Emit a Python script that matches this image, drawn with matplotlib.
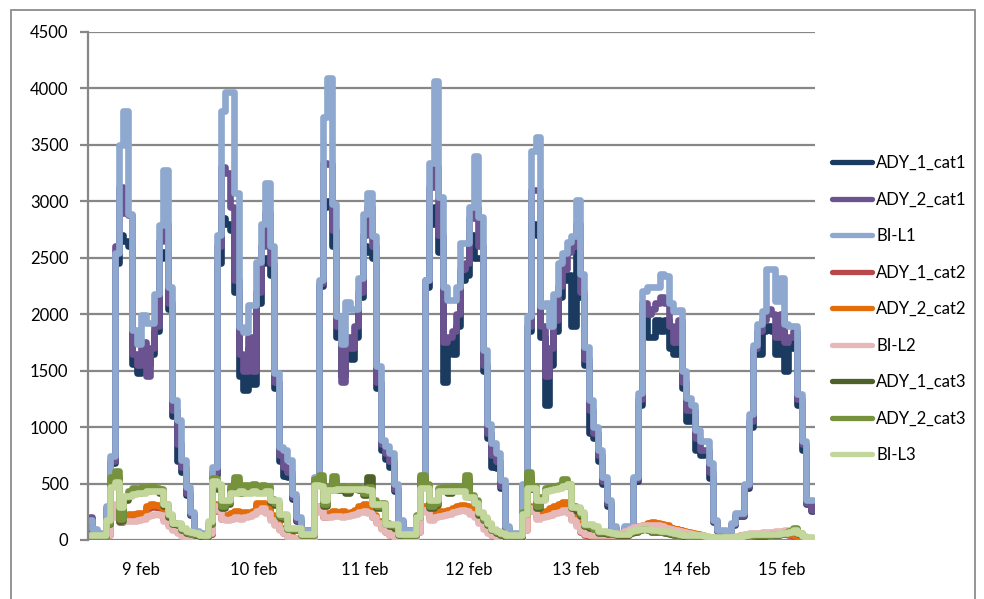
import matplotlib
matplotlib.use("Agg")
import matplotlib.pyplot as plt
import numpy as np
from matplotlib.patches import Rectangle
from matplotlib.lines import Line2D

plt.rcParams['font.family'] = ['Lato', 'DejaVu Sans']

# ---------------- data (hourly values, 9 feb 00:00 .. 15 feb 19:00) ----------------
ady_1_cat1 = (
    [190, 80, 50, 50, 270, 680, 2450, 2700, 2650, 2600, 1560, 1480, 1650, 1550, 1650, 1850, 2500, 2550, 2050, 1100, 700, 600, 400, 220]
    + [70, 50, 50, 50, 580, 2450, 2850, 2800, 2750, 2200, 1450, 1330, 1700, 1380, 2100, 2450, 2500, 2350, 1350, 700, 570, 560, 360, 170]
    + [80, 80, 80, 520, 2250, 2950, 3000, 2600, 1800, 1450, 1750, 1600, 1800, 2150, 2600, 2550, 2500, 1350, 800, 720, 650, 430, 160, 80]
    + [80, 80, 80, 520, 2240, 2800, 2950, 2550, 1400, 1750, 1650, 1900, 2300, 2350, 2700, 2500, 2500, 1500, 900, 650, 640, 460, 100, 55]
    + [55, 55, 460, 1850, 2800, 2700, 1800, 1200, 1550, 1850, 2150, 2300, 2350, 1900, 2550, 2150, 1550, 950, 900, 700, 500, 300, 100, 55]
    + [55, 100, 100, 520, 1200, 2000, 1800, 1800, 1950, 1850, 1950, 1700, 1650, 1900, 1350, 1050, 1100, 800, 750, 780, 550, 160, 80, 80]
    + [55, 130, 210, 210, 460, 1000, 1650, 1650, 1850, 1900, 1850, 1650, 1950, 1500, 1700, 1800, 1200, 800, 320, 260]
)
ady_2_cat1 = (
    [200, 80, 50, 50, 280, 700, 2600, 3130, 2900, 2880, 1650, 1550, 1750, 1450, 1700, 1900, 2650, 2800, 2100, 1150, 850, 650, 420, 230]
    + [75, 55, 55, 55, 600, 2600, 3300, 3250, 2950, 2300, 1650, 1500, 1800, 1500, 2200, 2600, 2900, 2450, 1400, 750, 650, 600, 380, 180]
    + [85, 85, 85, 550, 2280, 3340, 3330, 2750, 1900, 1400, 1800, 1700, 1900, 2200, 2700, 2950, 2600, 1400, 850, 770, 700, 450, 170, 85]
    + [85, 85, 85, 540, 2300, 3130, 3300, 2700, 1750, 1800, 1850, 2000, 2400, 2450, 2850, 2950, 2600, 1550, 950, 750, 700, 480, 110, 55]
    + [55, 55, 480, 1900, 3100, 3100, 1900, 1450, 1700, 1950, 2250, 2400, 2550, 2600, 2800, 2200, 1600, 1150, 950, 750, 520, 330, 110, 55]
    + [55, 110, 110, 540, 1250, 2100, 2000, 2050, 2100, 2150, 2100, 1900, 1750, 1950, 1400, 1150, 1150, 900, 800, 800, 600, 170, 80, 80]
    + [55, 140, 220, 220, 480, 1050, 1700, 1850, 1950, 2050, 2000, 1800, 2000, 1750, 1800, 1850, 1250, 850, 330, 270]
)
bi_l1 = (
    [180, 100, 60, 60, 300, 740, 2540, 3500, 3800, 2890, 1860, 1740, 1990, 1920, 1920, 2180, 2790, 3280, 2240, 1240, 1060, 710, 470, 250]
    + [80, 60, 60, 60, 650, 2700, 3800, 3970, 3970, 3070, 1890, 1840, 2080, 2080, 2460, 2800, 3160, 2600, 1480, 820, 800, 710, 410, 200]
    + [90, 90, 90, 560, 2300, 3750, 4090, 2980, 1980, 1740, 2110, 2050, 2050, 2320, 2890, 3070, 2690, 1540, 890, 830, 770, 500, 180, 90]
    + [90, 90, 90, 560, 2300, 3340, 4070, 3040, 2240, 2125, 2125, 2240, 2630, 2630, 2950, 3400, 2860, 1680, 1030, 860, 770, 530, 120, 60]
    + [60, 60, 500, 1980, 3450, 3570, 2070, 2100, 1900, 2180, 2450, 2540, 2640, 2690, 3010, 2360, 1710, 1240, 1000, 800, 560, 350, 120, 60]
    + [60, 120, 120, 560, 1300, 2210, 2240, 2240, 2240, 2360, 2340, 2100, 2030, 2040, 1500, 1260, 1200, 970, 880, 880, 680, 180, 90, 90]
    + [60, 150, 235, 235, 500, 1120, 1730, 1910, 2030, 2400, 2400, 2120, 2320, 1910, 1900, 1900, 1290, 880, 350, 350]
)
ady_1_cat2 = (
    [8, 8, 8, 8, 40, 230, 280, 160, 200, 210, 210, 220, 230, 280, 300, 290, 280, 190, 140, 100, 70, 45, 18, 12]
    + [8, 8, 8, 50, 300, 260, 190, 200, 220, 240, 220, 230, 230, 250, 310, 310, 280, 200, 150, 100, 60, 35, 12, 8]
    + [8, 8, 8, 260, 280, 200, 220, 240, 230, 240, 230, 240, 250, 280, 300, 280, 200, 160, 110, 70, 45, 25, 12, 8]
    + [8, 8, 70, 280, 260, 200, 210, 240, 240, 250, 260, 280, 290, 280, 260, 230, 180, 130, 80, 45, 25, 15, 8, 8]
    + [8, 8, 90, 280, 260, 200, 220, 240, 260, 280, 300, 320, 260, 190, 140, 70, 45, 35, 28, 28, 28, 28, 28, 28]
    + [28, 45, 75, 100, 115, 125, 140, 150, 145, 135, 125, 105, 95, 85, 75, 65, 55, 45, 35, 28, 22, 18, 14, 14]
    + [14, 18, 28, 38, 42, 48, 52, 48, 52, 58, 58, 52, 58, 52, 48, 38, 18, 8, 4, 4]
)
ady_2_cat2 = (
    [10, 10, 10, 10, 50, 250, 300, 180, 220, 230, 230, 240, 240, 300, 320, 310, 300, 200, 150, 110, 80, 50, 20, 15]
    + [10, 10, 10, 60, 320, 280, 200, 220, 240, 260, 230, 250, 240, 260, 330, 330, 300, 220, 160, 110, 70, 40, 15, 10]
    + [10, 10, 10, 280, 300, 210, 240, 260, 250, 260, 240, 250, 270, 300, 320, 300, 220, 170, 120, 80, 50, 30, 15, 10]
    + [10, 10, 80, 300, 280, 210, 230, 260, 250, 270, 280, 300, 310, 300, 280, 250, 200, 140, 90, 50, 30, 20, 10, 10]
    + [10, 10, 100, 300, 280, 220, 240, 260, 280, 300, 320, 340, 280, 200, 150, 80, 50, 40, 30, 30, 30, 30, 30, 30]
    + [30, 50, 80, 110, 120, 130, 150, 160, 150, 140, 130, 110, 100, 90, 80, 70, 60, 50, 40, 30, 25, 20, 15, 15]
    + [15, 20, 30, 40, 45, 50, 55, 50, 55, 60, 60, 55, 60, 55, 50, 40, 20, 10, 5, 5]
)
bi_l2 = (
    [15, 15, 15, 15, 40, 200, 320, 200, 170, 170, 170, 180, 190, 210, 220, 230, 220, 170, 120, 90, 60, 35, 20, 15]
    + [15, 15, 15, 60, 300, 270, 190, 180, 190, 200, 190, 200, 210, 230, 260, 280, 240, 180, 130, 90, 60, 30, 15, 10]
    + [10, 10, 10, 250, 300, 200, 200, 210, 210, 200, 210, 220, 230, 250, 260, 240, 200, 150, 100, 70, 40, 25, 15, 10]
    + [10, 10, 70, 270, 250, 180, 200, 210, 220, 230, 250, 260, 270, 260, 230, 200, 150, 100, 60, 40, 25, 15, 10, 10]
    + [10, 10, 90, 280, 260, 190, 200, 210, 220, 240, 250, 270, 240, 180, 120, 80, 55, 45, 40, 40, 40, 40, 45, 50]
    + [60, 80, 100, 115, 125, 130, 135, 135, 130, 120, 110, 100, 90, 80, 70, 60, 50, 40, 35, 30, 25, 20, 20, 20]
    + [20, 25, 35, 45, 55, 60, 65, 65, 70, 70, 75, 80, 80, 85, 85, 70, 50, 30, 20, 15]
)
ady_1_cat3 = (
    [30, 30, 30, 30, 140, 500, 560, 170, 350, 400, 430, 420, 440, 430, 450, 440, 420, 300, 200, 140, 130, 90, 65, 50]
    + [45, 35, 30, 140, 510, 450, 280, 320, 450, 520, 420, 460, 450, 470, 440, 460, 450, 340, 310, 200, 190, 95, 90, 90]
    + [40, 40, 40, 510, 540, 300, 440, 530, 440, 450, 420, 450, 450, 440, 400, 560, 330, 280, 300, 140, 120, 110, 45, 40]
    + [40, 40, 200, 550, 470, 280, 310, 440, 450, 420, 450, 450, 440, 540, 380, 330, 220, 180, 130, 85, 65, 45, 30, 30]
    + [30, 30, 230, 570, 450, 280, 360, 440, 450, 460, 470, 510, 480, 280, 260, 210, 120, 110, 95, 65, 65, 55, 50, 45]
    + [45, 45, 65, 75, 85, 95, 85, 75, 75, 70, 65, 55, 45, 40, 35, 30, 28, 25, 22, 18, 18, 14, 14, 14]
    + [14, 14, 18, 22, 28, 32, 36, 38, 38, 42, 46, 48, 52, 58, 75, 100, 55, 28, 18, 14]
)
ady_2_cat3 = (
    [30, 30, 30, 30, 150, 560, 610, 190, 380, 430, 460, 440, 470, 450, 480, 460, 450, 320, 220, 150, 140, 100, 70, 55]
    + [50, 40, 35, 150, 550, 480, 300, 340, 480, 560, 450, 490, 470, 500, 460, 490, 480, 360, 330, 210, 200, 100, 95, 95]
    + [45, 45, 45, 540, 580, 320, 470, 570, 460, 480, 440, 470, 480, 460, 420, 470, 350, 300, 330, 150, 130, 120, 50, 45]
    + [45, 45, 220, 580, 500, 300, 330, 460, 470, 440, 480, 470, 460, 580, 400, 350, 240, 190, 140, 90, 70, 50, 35, 35]
    + [35, 35, 250, 600, 480, 300, 380, 460, 470, 480, 490, 540, 500, 300, 280, 230, 130, 120, 100, 70, 70, 60, 55, 50]
    + [50, 50, 70, 80, 90, 100, 90, 80, 80, 75, 70, 60, 50, 45, 40, 35, 30, 30, 25, 20, 20, 15, 15, 15]
    + [15, 15, 20, 25, 30, 35, 40, 40, 40, 45, 50, 50, 55, 60, 80, 110, 60, 30, 20, 15]
)
bi_l3 = (
    [40, 40, 40, 40, 180, 470, 510, 290, 390, 390, 410, 420, 420, 430, 435, 435, 435, 320, 230, 155, 155, 110, 80, 70]
    + [60, 45, 40, 170, 520, 500, 350, 350, 420, 420, 430, 420, 420, 430, 420, 420, 430, 350, 350, 230, 230, 110, 110, 110]
    + [50, 50, 50, 490, 480, 350, 440, 440, 450, 450, 450, 450, 450, 450, 450, 440, 320, 320, 320, 140, 140, 140, 55, 55]
    + [55, 55, 200, 465, 465, 350, 350, 435, 435, 435, 435, 435, 435, 380, 380, 330, 250, 200, 150, 100, 80, 60, 40, 40]
    + [40, 40, 230, 465, 465, 350, 350, 435, 440, 450, 460, 480, 500, 290, 290, 250, 140, 140, 120, 80, 80, 70, 60, 55]
    + [55, 55, 80, 90, 100, 100, 95, 90, 85, 80, 80, 75, 60, 50, 45, 40, 40, 40, 40, 35, 30, 25, 25, 25]
    + [25, 25, 30, 35, 45, 50, 50, 50, 50, 50, 55, 55, 60, 60, 70, 85, 60, 35, 25, 25]
)

series_names = ["ADY_1_cat1", "ADY_2_cat1", "BI-L1",
                "ADY_1_cat2", "ADY_2_cat2", "BI-L2",
                "ADY_1_cat3", "ADY_2_cat3", "BI-L3"]
series_values = [ady_1_cat1, ady_2_cat1, bi_l1,
                 ady_1_cat2, ady_2_cat2, bi_l2,
                 ady_1_cat3, ady_2_cat3, bi_l3]
series_colors = ["#1B3A5F", "#6B5391", "#8EA8CF",
                 "#B9484A", "#E46C0A", "#E6B8B7",
                 "#4E6128", "#76923C", "#C3D69B"]

tick_labels = ["9 feb", "10 feb", "11 feb", "12 feb", "13 feb", "14 feb", "15 feb"]
tick_hours = [11.5, 37, 62, 85.5, 109.5, 134.5, 156]

# ---------------- figure ----------------
W, H = 984, 599
fig = plt.figure(figsize=(W / 100, H / 100), dpi=100)

# chart-area border
fig.patches.append(Rectangle((11 / W, -0.05), (975 - 11) / W, 1 - 10 / H + 0.05,
                             transform=fig.transFigure, fill=False,
                             edgecolor="#8C8C8C", lw=1.3))

ax = fig.add_axes([88 / W, 1 - 540 / H, (815 - 88) / W, (540 - 32) / H])
hours = np.arange(len(bi_l1))
for name, vals, col in zip(series_names, series_values, series_colors):
    ax.plot(hours, vals, color=col, lw=4.8, drawstyle="steps-mid",
            solid_joinstyle="round", solid_capstyle="round", label=name)

ax.set_xlim(-0.5, len(bi_l1) - 0.5)
ax.set_ylim(0, 4500)
ax.set_yticks(np.arange(0, 4501, 500))
ax.grid(axis="y", color="#878787", lw=1.6)
ax.set_axisbelow(True)
for s in ["top", "right", "bottom"]:
    ax.spines[s].set_visible(False)
ax.spines["left"].set_color("#878787")
ax.spines["left"].set_linewidth(1.6)
ax.tick_params(axis="y", length=6, width=1.6, color="#878787", labelsize=12, pad=8)
ax.set_xticks(tick_hours)
ax.set_xticklabels(tick_labels)
ax.tick_params(axis="x", length=0, labelsize=12, pad=16)

leg_handles = [Line2D([0], [0], color=c, lw=3.8, solid_capstyle="round") for c in series_colors]
leg = fig.legend(leg_handles, series_names, loc="upper left",
                 bbox_to_anchor=(832 / W, 1 - 155 / H), frameon=False,
                 fontsize=12, handlelength=2.4, handletextpad=0.25,
                 labelspacing=1.23, borderpad=0, borderaxespad=0)

fig.savefig("out.png", dpi=100)
